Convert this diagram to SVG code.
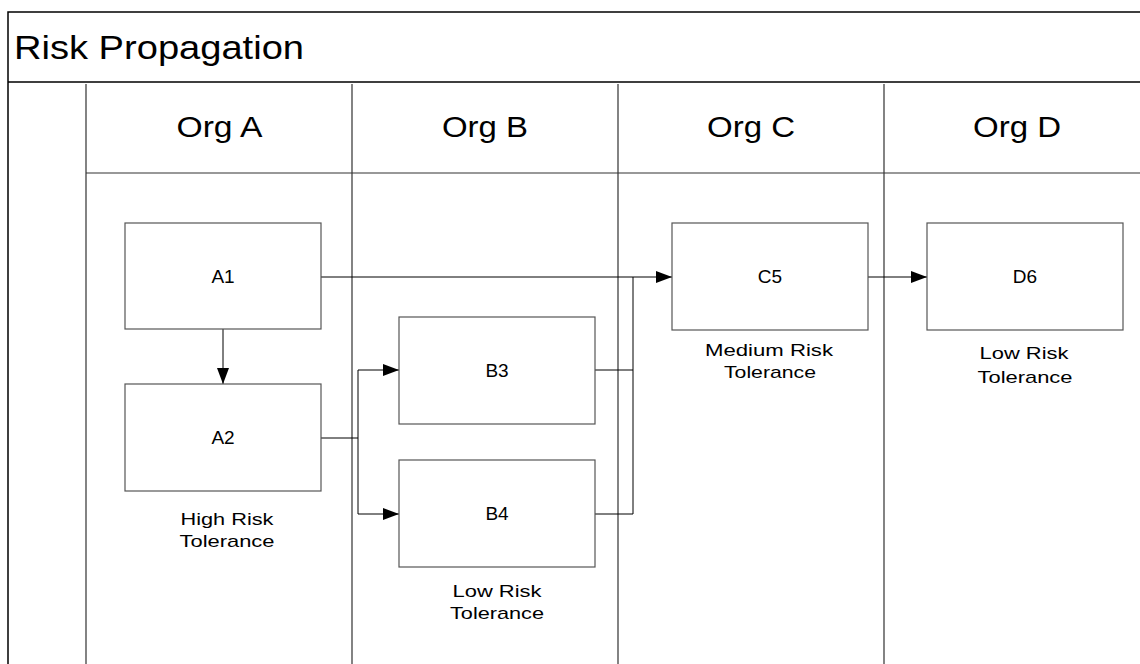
<svg xmlns="http://www.w3.org/2000/svg" width="1140" height="664" viewBox="0 0 1140 664">
<style>
.frame{fill:none;stroke:#000;stroke-width:1.5}
.lane{fill:none;stroke:#333;stroke-width:1.2}
.box{fill:#fff;stroke:#555;stroke-width:1.2}
.conn{fill:none;stroke:#000;stroke-width:1}
text{font-family:"Liberation Sans",Arial,sans-serif;fill:#000}
.title{font-size:34px}
.hdr{font-size:30px;text-anchor:middle}
.lbl{font-size:19px;text-anchor:middle}
.note{font-size:17px;text-anchor:middle}
</style>
<defs>
<marker id="arr" markerWidth="16" markerHeight="12" refX="16" refY="6" orient="auto" markerUnits="userSpaceOnUse">
<path d="M0,0 L16,6 L0,12 Z" fill="#000"/>
</marker>
</defs>
<rect width="1140" height="664" fill="#fff"/>
<g id="pool">
<path class="frame" d="M1140,12 H8 V664 M8,82 H1140"/>
<path class="lane" d="M86,84 V664 M352,84 V664 M618,84 V664 M884,84 V664 M86,173 H1140"/>
<text class="title" x="14" y="59" textLength="290" lengthAdjust="spacingAndGlyphs">Risk Propagation</text>
<text class="hdr" x="219.5" y="137" textLength="86" lengthAdjust="spacingAndGlyphs">Org A</text>
<text class="hdr" x="485" y="137" textLength="86" lengthAdjust="spacingAndGlyphs">Org B</text>
<text class="hdr" x="751" y="137" textLength="88" lengthAdjust="spacingAndGlyphs">Org C</text>
<text class="hdr" x="1017" y="137" textLength="88" lengthAdjust="spacingAndGlyphs">Org D</text>
</g>
<g id="connectors">
<path class="conn" d="M321,277 H672" marker-end="url(#arr)"/>
<path class="conn" d="M223,329 V384" marker-end="url(#arr)"/>
<path class="conn" d="M321,438 H358 V370 H399" marker-end="url(#arr)"/>
<path class="conn" d="M358,438 V514 H399" marker-end="url(#arr)"/>
<path class="conn" d="M595,370 H633 V277"/>
<path class="conn" d="M595,514 H633 V370"/>
<path class="conn" d="M868,277 H927" marker-end="url(#arr)"/>
</g>
<g id="A1"><rect class="box" x="125" y="223" width="196" height="106"/><text class="lbl" x="223" y="283">A1</text></g>
<g id="A2"><rect class="box" x="125" y="384" width="196" height="107"/><text class="lbl" x="223" y="444">A2</text>
<text class="note" x="227" y="525" textLength="93" lengthAdjust="spacingAndGlyphs">High Risk</text><text class="note" x="227" y="547" textLength="95" lengthAdjust="spacingAndGlyphs">Tolerance</text></g>
<g id="B3"><rect class="box" x="399" y="317" width="196" height="107"/><text class="lbl" x="497" y="377">B3</text></g>
<g id="B4"><rect class="box" x="399" y="460" width="196" height="107"/><text class="lbl" x="497" y="520">B4</text>
<text class="note" x="497" y="597" textLength="89" lengthAdjust="spacingAndGlyphs">Low Risk</text><text class="note" x="497" y="619" textLength="94" lengthAdjust="spacingAndGlyphs">Tolerance</text></g>
<g id="C5"><rect class="box" x="672" y="223" width="196" height="107"/><text class="lbl" x="770" y="283">C5</text>
<text class="note" x="769" y="356" textLength="128" lengthAdjust="spacingAndGlyphs">Medium Risk</text><text class="note" x="770" y="378" textLength="92" lengthAdjust="spacingAndGlyphs">Tolerance</text></g>
<g id="D6"><rect class="box" x="927" y="223" width="196" height="107"/><text class="lbl" x="1025" y="283">D6</text>
<text class="note" x="1024" y="359" textLength="89" lengthAdjust="spacingAndGlyphs">Low Risk</text><text class="note" x="1025" y="383" textLength="95" lengthAdjust="spacingAndGlyphs">Tolerance</text></g>
</svg>
